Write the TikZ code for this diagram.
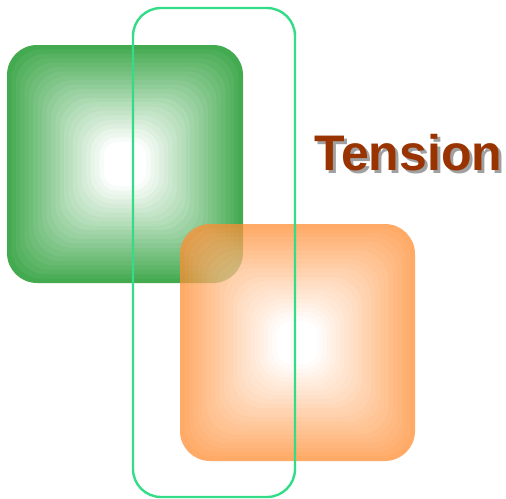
\documentclass[tikz,border=0pt]{standalone}
\usepackage{fontspec}
\setmainfont{Liberation Sans}
\definecolor{gedge}{RGB}{68,170,80}
\definecolor{oedge}{RGB}{255,141,51}
\definecolor{framecol}{RGB}{51,221,136}
\definecolor{tens}{RGB}{153,51,0}
\definecolor{shadowcol}{RGB}{160,160,160}
\tikzset{
  titletext/.style={anchor=base west, inner sep=0pt, font=\bfseries\fontsize{50}{50}\selectfont},
  framebox/.style={draw=framecol, line width=2.4pt, rounded corners=28pt}
}
\begin{document}
\begin{tikzpicture}[x=1pt,y=-1pt]
\useasboundingbox (0,0) rectangle (506,498);
% green square
\foreach \i in {0,...,25}{
  \pgfmathsetmacro\d{\i*4.4}
  \pgfmathtruncatemacro\p{max(0,100-\i*100/22)}
  \pgfmathsetmacro\r{min(30,(118-\d)*0.7)}
  \fill[gedge!\p!white, rounded corners=\r pt] (7+\d,45+\d) rectangle (243-\d,283-\d);
}
% orange square
\begin{scope}[transparency group, opacity=0.75]
\foreach \i in {0,...,25}{
  \pgfmathsetmacro\d{\i*4.4}
  \pgfmathtruncatemacro\p{max(0,100-\i*100/22)}
  \pgfmathsetmacro\r{min(30,(118-\d)*0.7)}
  \fill[oedge!\p!white, rounded corners=\r pt] (180+\d,224+\d) rectangle (415-\d,461-\d);
}
\end{scope}
% frame
\draw[framebox] (133,8) rectangle (295,497);
% title with shadow
\node[titletext, text=tens] (title) at (314,170)
  {\makebox[0pt][l]{\hspace{3pt}\raisebox{-3pt}{\textcolor{shadowcol}{Tension}}}Tension};
\end{tikzpicture}
\end{document}
